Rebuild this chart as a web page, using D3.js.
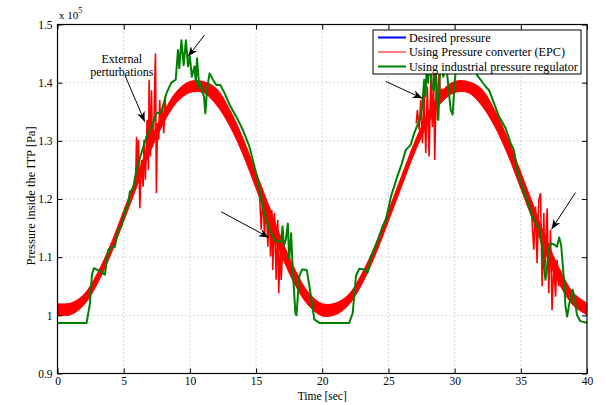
<!DOCTYPE html>
<html>
<head>
<meta charset="utf-8">
<script src="https://cdn.jsdelivr.net/npm/d3@7"></script>
<style>
  body { margin: 0; background: #fff; }
  text { font-family: "Liberation Serif", "Times New Roman", serif; fill: #000; }
</style>
</head>
<body>
<svg id="chart" width="606" height="405"></svg>
<script>
// ---- data ----
var timeTicks = [0, 5, 10, 15, 20, 25, 30, 35, 40];
var pressureTicks = [0.9, 1, 1.1, 1.2, 1.3, 1.4, 1.5];

var seconds = [0,1,2,3,4,5,6,7,8,9,10,11,12,13,14,15,16,17,18,19,20,
               21,22,23,24,25,26,27,28,29,30,31,32,33,34,35,36,37,38,39,40];

// desired pressure (x1e5 Pa)
var desired = [1.007,1.007,1.026,1.062,1.111,1.170,1.230,1.289,1.338,1.374,1.393,
               1.393,1.374,1.338,1.289,1.230,1.170,1.111,1.062,1.026,1.007,
               1.007,1.026,1.062,1.111,1.170,1.230,1.289,1.338,1.374,1.393,
               1.393,1.374,1.338,1.289,1.230,1.170,1.111,1.062,1.026,1.007];

// EPC response: upper / lower edge of the ripple band
var epcHigh = [1.020,1.021,1.036,1.072,1.121,1.180,1.240,1.299,1.348,1.385,1.402,
               1.402,1.390,1.354,1.305,1.246,1.186,1.127,1.076,1.038,1.020,
               1.021,1.036,1.072,1.121,1.180,1.240,1.299,1.348,1.385,1.402,
               1.402,1.390,1.354,1.305,1.246,1.186,1.127,1.076,1.038,1.021];
var epcLow  = [1.000,1.001,1.018,1.054,1.103,1.162,1.222,1.281,1.330,1.366,1.383,
               1.383,1.362,1.326,1.277,1.218,1.158,1.099,1.050,1.016,0.999,
               1.001,1.018,1.054,1.103,1.162,1.222,1.281,1.330,1.366,1.383,
               1.383,1.362,1.326,1.277,1.218,1.158,1.099,1.050,1.016,1.001];

// EPC response during the external perturbations [time, value]
var burst1 = [[5.9,1.222],[5.97,1.307],[6.04,1.227],[6.12,1.302],[6.22,1.184],[6.34,1.267],
              [6.47,1.221],[6.54,1.302],[6.64,1.233],[6.77,1.336],[6.87,1.25],[6.92,1.405],
              [7.02,1.273],[7.1,1.387],[7.17,1.29],[7.27,1.319],[7.35,1.405],[7.4,1.45],
              [7.47,1.21],[7.55,1.33],[7.65,1.302],[7.72,1.37],[7.8,1.324],[7.93,1.359],
              [8.03,1.313],[8.12,1.376],[8.2,1.345]];
var burst2 = [[15.15,1.225],[15.26,1.21],[15.39,1.147],[15.51,1.21],[15.64,1.135],[15.76,1.198],
              [15.89,1.118],[16.01,1.187],[16.09,1.101],[16.19,1.181],[16.26,1.078],[16.39,1.176],
              [16.52,1.061],[16.64,1.164],[16.71,1.038],[16.82,1.113],[16.9,1.061],[17.0,1.11]];
var burst3 = [[27.1,1.33],[27.19,1.353],[27.32,1.319],[27.44,1.37],[27.57,1.296],[27.69,1.382],
              [27.82,1.279],[27.94,1.393],[28.07,1.273],[28.2,1.405],[28.32,1.324],[28.4,1.416],
              [28.5,1.267],[28.62,1.41],[28.72,1.336],[28.82,1.416],[28.95,1.37],[29.05,1.39]];
var burst4 = [[35.8,1.19],[35.86,1.158],[35.98,1.113],[36.11,1.187],[36.23,1.09],[36.36,1.198],
              [36.49,1.21],[36.61,1.05],[36.74,1.176],[36.81,1.073],[36.99,1.184],[37.11,1.038],
              [37.24,1.147],[37.36,1.009],[37.49,1.09],[37.62,1.032],[37.74,1.095],[37.87,1.05],
              [37.99,1.078],[38.1,1.06]];

// industrial pressure regulator response [time, value]
var regulator = [[0,0.987],[2.2,0.987],[2.45,1.02],[2.6,1.07],[2.75,1.081],[3.2,1.076],[3.58,1.07],
  [3.7,1.09],[3.83,1.112],[4.08,1.116],[4.33,1.118],[4.58,1.147],[4.83,1.153],[5.08,1.178],
  [5.33,1.19],[5.46,1.212],[5.71,1.218],[5.96,1.25],[6.34,1.279],[6.72,1.307],[7.1,1.324],
  [7.47,1.347],[7.85,1.35],[8.23,1.382],[8.6,1.4],[8.93,1.405],[9.1,1.456],[9.2,1.425],
  [9.36,1.473],[9.53,1.43],[9.7,1.473],[9.86,1.428],[10.0,1.445],[10.15,1.41],[10.35,1.428],
  [10.45,1.4],[10.54,1.442],[10.72,1.39],[10.8,1.4],[10.94,1.384],[11.07,1.376],[11.17,1.347],
  [11.3,1.39],[11.49,1.416],[11.75,1.405],[12.0,1.396],[12.3,1.396],[12.62,1.382],[13.0,1.362],
  [13.5,1.342],[14.0,1.319],[14.5,1.29],[15.13,1.233],[15.5,1.187],[16.0,1.147],[16.5,1.127],
  [16.9,1.127],[17.0,1.153],[17.1,1.12],[17.25,1.13],[17.4,1.158],[17.5,1.096],[17.65,1.141],
  [17.77,1.079],[17.97,1.004],[18.05,1.0],[18.27,1.068],[18.48,1.079],[18.83,1.078],[19.03,1.05],
  [19.4,0.993],[19.78,0.987],[22.04,0.987],[22.3,1.004],[22.55,1.068],[22.8,1.08],[23.2,1.079],
  [23.42,1.073],[23.68,1.101],[23.93,1.113],[24.3,1.136],[24.55,1.153],[24.8,1.164],[25.2,1.205],
  [25.7,1.241],[26.0,1.26],[26.3,1.284],[26.68,1.293],[26.94,1.313],[27.19,1.327],[27.45,1.342],
  [27.55,1.36],[27.7,1.405],[27.8,1.376],[27.9,1.43],[28.0,1.4],[28.1,1.44],[28.3,1.39],
  [28.45,1.387],[28.55,1.43],[28.77,1.336],[28.9,1.42],[29.0,1.43],[29.15,1.41],[29.33,1.44],
  [29.5,1.4],[29.7,1.353],[29.85,1.345],[30.0,1.4],[30.13,1.43],[30.5,1.44],[31.0,1.44],
  [31.5,1.425],[31.7,1.413],[32.35,1.393],[32.6,1.387],[32.97,1.365],[33.35,1.342],[33.85,1.322],
  [34.23,1.296],[34.48,1.284],[34.73,1.25],[35.1,1.221],[35.48,1.198],[35.86,1.17],[36.23,1.153],
  [36.4,1.15],[36.61,1.118],[36.74,1.084],[36.86,1.061],[36.95,1.075],[37.1,1.113],[37.24,1.124],
  [37.5,1.122],[37.73,1.118],[37.9,1.134],[38.05,1.12],[38.24,1.067],[38.37,1.016],[38.5,0.998],
  [38.67,1.021],[38.92,1.044],[39.05,1.03],[39.25,1.0],[39.5,0.99],[40,0.987]];

// arrows: [fromTime, fromValue, toTime, toValue]
var arrows = [[5.09,1.413,6.59,1.333],[11.11,1.482,9.86,1.445],[12.37,1.178,15.96,1.134],
              [24.81,1.402,27.57,1.373],[39.13,1.211,37.32,1.148]];

var legendNames = ["Desired pressure", "Using Pressure converter (EPC)", "Using industrial pressure regulator"];
var legendColors = ["#0000ff", "#ff0000", "#008000"];

// ---- layout ----
var margin = {top: 24.5, right: 19, bottom: 31.5, left: 57.5}
  , width = 606 - margin.left - margin.right
  , height = 405 - margin.top - margin.bottom;

var svg = d3.select("#chart");
var g = svg.append("g").attr("transform", "translate(" + margin.left + "," + margin.top + ")");

var x = d3.scaleLinear().domain([0, 40]).range([0, width]);
var y = d3.scaleLinear().domain([0.9, 1.5]).range([height, 0]);

svg.append("defs").append("clipPath").attr("id", "plotClip")
  .append("rect").attr("width", width).attr("height", height);

// grid
g.append("g").selectAll("line").data(timeTicks.slice(1, -1)).enter().append("line")
  .attr("x1", d => x(d)).attr("x2", d => x(d)).attr("y1", 0).attr("y2", height)
  .attr("stroke", "#9a9a9a").attr("stroke-width", 0.8).attr("stroke-dasharray", "1,3");
g.append("g").selectAll("line").data(pressureTicks.slice(1, -1)).enter().append("line")
  .attr("y1", d => y(d)).attr("y2", d => y(d)).attr("x1", 0).attr("x2", width)
  .attr("stroke", "#9a9a9a").attr("stroke-width", 0.8).attr("stroke-dasharray", "1,3");

var plot = g.append("g").attr("clip-path", "url(#plotClip)");

// desired
var desiredLine = d3.line().x((d, i) => x(seconds[i])).y(d => y(d)).curve(d3.curveCatmullRom);
plot.append("path").datum(desired).attr("d", desiredLine)
  .attr("fill", "none").attr("stroke", "#0000ff").attr("stroke-width", 2);

// EPC band
var band = d3.area().x((d, i) => x(seconds[i]))
  .y0((d, i) => y(epcLow[i])).y1((d, i) => y(epcHigh[i])).curve(d3.curveCatmullRom);
plot.append("path").datum(epcHigh).attr("d", band)
  .attr("fill", "#ff0000").attr("stroke", "#ff0000").attr("stroke-width", 1);

var pairLine = d3.line().x(d => x(d[0])).y(d => y(d[1]));
[burst1, burst2, burst3, burst4].forEach(function(b) {
  plot.append("path").datum(b).attr("d", pairLine)
    .attr("fill", "none").attr("stroke", "#ff0000").attr("stroke-width", 1.6);
});

// regulator
plot.append("path").datum(regulator).attr("d", pairLine)
  .attr("fill", "none").attr("stroke", "#008000").attr("stroke-width", 2)
  .attr("stroke-linejoin", "round");

// arrows
svg.append("defs").append("marker").attr("id", "head")
  .attr("viewBox", "0 0 10 10").attr("refX", 10).attr("refY", 5)
  .attr("markerWidth", 10).attr("markerHeight", 10).attr("markerUnits", "userSpaceOnUse")
  .attr("orient", "auto")
  .append("path").attr("d", "M0,1 L10,5 L0,9 L3,5 Z").attr("fill", "#000");
g.append("g").selectAll("line").data(arrows).enter().append("line")
  .attr("x1", d => x(d[0])).attr("y1", d => y(d[1]))
  .attr("x2", d => x(d[2])).attr("y2", d => y(d[3]))
  .attr("stroke", "#000").attr("stroke-width", 1).attr("marker-end", "url(#head)");

g.append("text").attr("x", x(4.86)).attr("y", y(1.434)).attr("text-anchor", "middle")
  .attr("font-size", 12).text("External");
g.append("text").attr("x", x(4.86)).attr("y", y(1.411)).attr("text-anchor", "middle")
  .attr("font-size", 12).text("perturbations");

// box and ticks
g.append("rect").attr("width", width).attr("height", height)
  .attr("fill", "none").attr("stroke", "#000").attr("stroke-width", 1.2);

var xAxis = g.append("g").attr("transform", "translate(0," + height + ")")
  .call(d3.axisBottom(x).tickValues(timeTicks).tickSizeInner(-5).tickSizeOuter(0).tickPadding(3));
var xTop = g.append("g").call(d3.axisTop(x).tickValues(timeTicks).tickSizeInner(-5).tickSizeOuter(0).tickFormat(""));
var yAxis = g.append("g")
  .call(d3.axisLeft(y).tickValues(pressureTicks).tickSizeInner(-5).tickSizeOuter(0).tickPadding(5)
  .tickFormat(d => d3.format("")(+d.toFixed(1))));
var yRight = g.append("g").attr("transform", "translate(" + width + ",0)")
  .call(d3.axisRight(y).tickValues(pressureTicks).tickSizeInner(-5).tickSizeOuter(0).tickFormat(""));
[xAxis, xTop, yAxis, yRight].forEach(function(a) {
  a.select(".domain").remove();
  a.selectAll(".tick line").attr("stroke", "#000");
  a.selectAll("text").attr("font-size", 11.5)
    .attr("font-family", "'Liberation Serif', 'Times New Roman', serif");
});

// exponent label
var expo = svg.append("text").attr("x", 59).attr("y", 19).attr("font-size", 11);
expo.append("tspan").text("x 10");
expo.append("tspan").attr("dy", -6).attr("font-size", 8).text("5");

// axis labels
svg.append("text").attr("x", margin.left + width / 2).attr("y", 400).attr("text-anchor", "middle")
  .attr("font-size", 11.5).text("Time [sec]");
svg.append("text").attr("transform", "translate(35," + (margin.top + height / 2 - 3) + ") rotate(-90)")
  .attr("text-anchor", "middle").attr("font-size", 12.5).text("Pressure inside the ITP [Pa]");

// legend
var legend = svg.append("g").attr("transform", "translate(373,30)");
legend.append("rect").attr("width", 208).attr("height", 44)
  .attr("fill", "#fff").attr("stroke", "#000").attr("stroke-width", 1);
legend.selectAll("g.item").data(legendNames).enter().append("g").attr("class", "item")
  .each(function(d, i) {
    var row = d3.select(this);
    row.append("line").attr("x1", 5).attr("x2", 33).attr("y1", 7.5 + i * 14.5).attr("y2", 7.5 + i * 14.5)
      .attr("stroke", legendColors[i]).attr("stroke-width", i === 1 ? 1 : 2);
    row.append("text").attr("x", 36).attr("y", 11.5 + i * 14.5).attr("font-size", 12.2).text(d);
  });
</script>
</body>
</html>
